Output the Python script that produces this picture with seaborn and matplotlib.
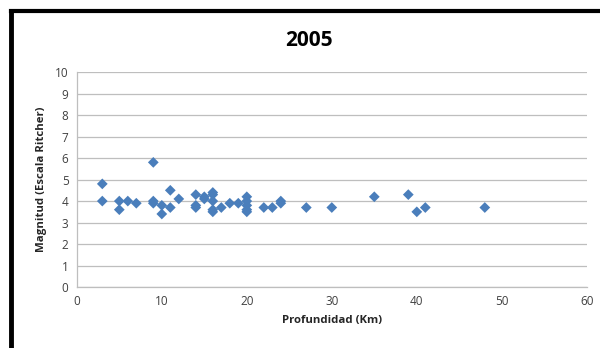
import pandas as pd
import seaborn as sns
import matplotlib.pyplot as plt
from matplotlib.lines import Line2D

# Datos (profundidad en km, magnitud Richter)
profundidad = [3, 3, 5, 5, 6, 7, 9, 9, 9, 10, 10, 11, 11, 12,
               14, 14, 14, 15, 15, 16, 16, 16, 16, 16, 17, 18, 19,
               20, 20, 20, 20, 20, 22, 23, 24, 24, 27, 30, 35, 39, 40, 41, 48]
magnitud = [4.8, 4.0, 4.0, 3.6, 4.0, 3.9, 5.8, 4.0, 3.9, 3.8, 3.4, 4.5, 3.7, 4.1,
            4.3, 3.8, 3.7, 4.1, 4.2, 4.4, 4.3, 4.0, 3.6, 3.5, 3.7, 3.9, 3.9,
            4.2, 4.0, 3.8, 3.6, 3.5, 3.7, 3.7, 4.0, 3.9, 3.7, 3.7, 4.2, 4.3, 3.5, 3.7, 3.7]
x_ticks = [0, 10, 20, 30, 40, 50, 60]
y_ticks = list(range(0, 11))

df = pd.DataFrame({'Profundidad': profundidad, 'Magnitud': magnitud})

sns.set_theme(style="white")
plt.rcParams['font.family'] = ['Open Sans', 'DejaVu Sans']

fig = plt.figure(figsize=(6, 3.48), dpi=100)
ax = fig.add_axes([0.128, 0.175, 0.85, 0.618])

sns.scatterplot(data=df, x='Profundidad', y='Magnitud', marker='D',
                s=30, color='#4A7EBB', edgecolor='none', linewidth=0, ax=ax, zorder=3)

ax.set_xlim(0, 60)
ax.set_ylim(0, 10)
ax.set_xticks(x_ticks)
ax.set_yticks(y_ticks)
ax.yaxis.grid(True, color='#BEBEBE', linewidth=0.9)
ax.xaxis.grid(False)
for side in ['top', 'right']:
    ax.spines[side].set_visible(False)
for side in ['left', 'bottom']:
    ax.spines[side].set_color('#BEBEBE')
    ax.spines[side].set_linewidth(0.9)
ax.tick_params(axis='both', length=0, labelsize=8.5, colors='#404040', pad=6)

ax.set_xlabel('Profundidad (Km)', fontsize=8.2, fontweight='bold', color='#262626', labelpad=5)
ax.set_ylabel('Magnitud (Escala Ritcher)', fontsize=8.2, fontweight='bold', color='#262626', labelpad=6)
fig.text(0.515, 0.884, '2005', ha='center', va='center', fontsize=15,
         fontweight='bold', color='black')

# marco negro del gráfico (recortado a la derecha y abajo)
y_top = 1 - 11.3 / 348
x_left = 10.8 / 600
fig.lines.append(Line2D([x_left, x_left], [0, y_top], transform=fig.transFigure,
                        color='black', linewidth=3.5, solid_capstyle='projecting'))
fig.lines.append(Line2D([x_left, 1.0], [y_top, y_top], transform=fig.transFigure,
                        color='black', linewidth=3, solid_capstyle='projecting'))

fig.savefig('out.png', dpi=100)
